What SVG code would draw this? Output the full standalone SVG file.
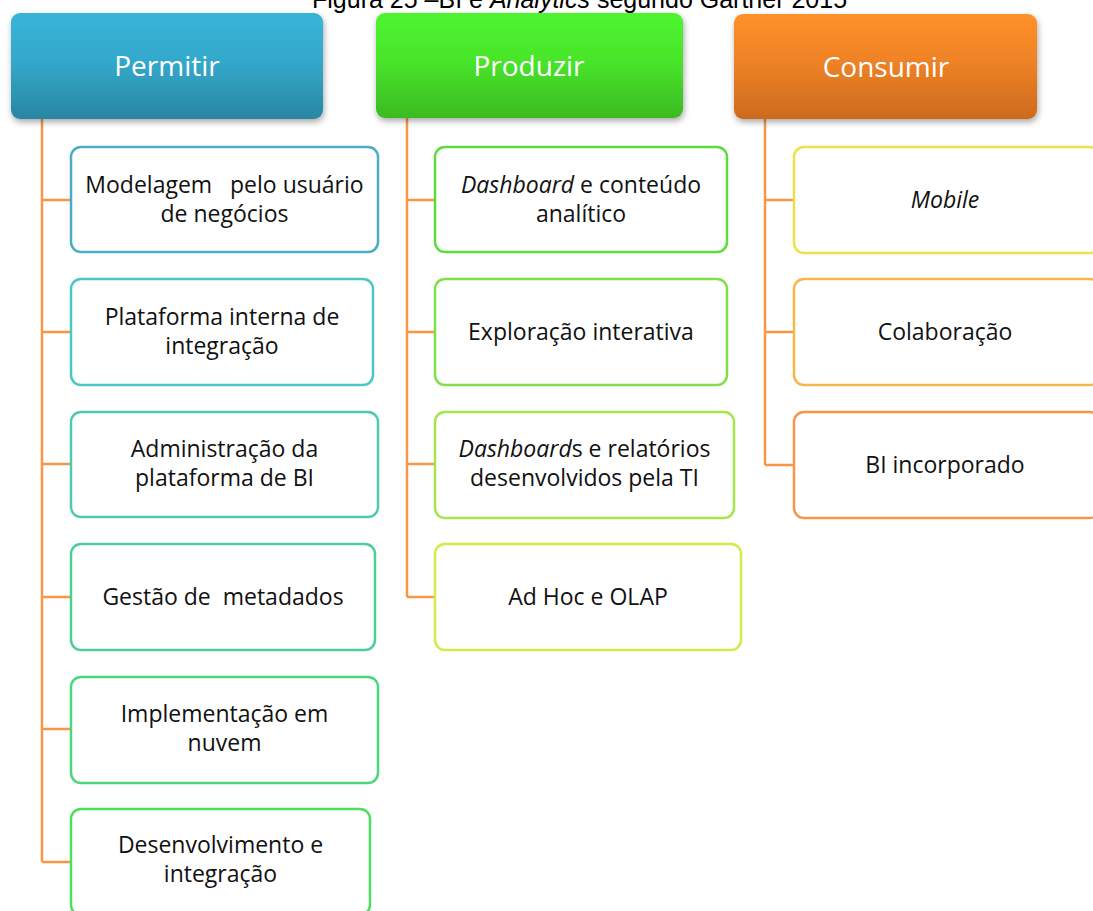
<svg xmlns="http://www.w3.org/2000/svg" width="1093" height="911" viewBox="0 0 1093 911">
  <style>
    .title { font-family: "Liberation Sans", Arial, sans-serif; font-size: 25px; fill: #000; }
    .head { font-family: "Open Sans", "Noto Sans", sans-serif; font-size: 28px; fill: #fff; text-anchor: middle; }
    .lbl { font-family: "Open Sans", "Noto Sans", sans-serif; font-size: 23px; fill: #111; text-anchor: middle; white-space: pre; }
    .it { font-style: italic; }
    .box { fill: #fff; stroke-width: 2.5; }
    .link { fill: none; stroke: #f79646; stroke-width: 2.5; }
  </style>
  <defs>
    <linearGradient id="gBlue" x1="0" y1="0" x2="0" y2="1">
      <stop offset="0" stop-color="#38b4d8"/>
      <stop offset="0.45" stop-color="#33a9cb"/>
      <stop offset="1" stop-color="#2986a2"/>
    </linearGradient>
    <linearGradient id="gGreen" x1="0" y1="0" x2="0" y2="1">
      <stop offset="0" stop-color="#4ef52f"/>
      <stop offset="0.45" stop-color="#48e52b"/>
      <stop offset="1" stop-color="#3bba22"/>
    </linearGradient>
    <linearGradient id="gOrange" x1="0" y1="0" x2="0" y2="1">
      <stop offset="0" stop-color="#ff912a"/>
      <stop offset="0.45" stop-color="#ee8226"/>
      <stop offset="1" stop-color="#cd6a1e"/>
    </linearGradient>
    <filter id="shadow" x="-10%" y="-10%" width="125%" height="135%">
      <feDropShadow dx="1" dy="3" stdDeviation="3" flood-color="#000" flood-opacity="0.35"/>
    </filter>
  </defs>

  <rect width="1093" height="911" fill="#fff"/>

  <!-- caption, partly above the top edge -->
  <text class="title" x="312" y="8">Figura 25 –BI e <tspan class="it">Analytics</tspan> segundo Gartner 2015</text>

  <!-- tree connectors -->
  <g id="connectors">
    <path class="link" d="M42 119 V862 M42 200 H71 M42 332 H71 M42 464 H71 M42 597 H71 M42 729 H71 M42 862 H71"/>
    <path class="link" d="M407 118 V597 M407 200 H435 M407 332 H435 M407 464 H435 M407 597 H435"/>
    <path class="link" d="M765 119 V465 M765 200 H794 M765 332 H794 M765 465 H794"/>
  </g>

  <!-- column headers -->
  <g id="permitir">
    <rect x="11" y="13" width="312" height="106" rx="9" fill="url(#gBlue)" filter="url(#shadow)"/>
    <text class="head" x="167" y="76">Permitir</text>
  </g>
  <g id="produzir">
    <rect x="376" y="13" width="307" height="105" rx="9" fill="url(#gGreen)" filter="url(#shadow)"/>
    <text class="head" x="529" y="76">Produzir</text>
  </g>
  <g id="consumir">
    <rect x="734" y="14" width="303" height="105" rx="9" fill="url(#gOrange)" filter="url(#shadow)"/>
    <text class="head" x="886" y="77">Consumir</text>
  </g>

  <!-- Permitir items -->
  <g id="modelagem">
    <rect class="box" x="71" y="147" width="307" height="105" rx="10" stroke="#4bacc6"/>
    <text class="lbl" x="224.5" y="193">Modelagem   pelo usuário</text>
    <text class="lbl" x="224.5" y="222">de negócios</text>
  </g>
  <g id="plataforma-interna">
    <rect class="box" x="71" y="279" width="302" height="106" rx="10" stroke="#4bc8c3"/>
    <text class="lbl" x="222" y="325">Plataforma interna de</text>
    <text class="lbl" x="222" y="354">integração</text>
  </g>
  <g id="administracao">
    <rect class="box" x="71" y="412" width="307" height="105" rx="10" stroke="#4ccbb1"/>
    <text class="lbl" x="224.5" y="457">Administração da</text>
    <text class="lbl" x="224.5" y="486">plataforma de BI</text>
  </g>
  <g id="gestao-metadados">
    <rect class="box" x="71" y="544" width="304" height="106" rx="10" stroke="#4bcf98"/>
    <text class="lbl" x="223" y="605">Gestão de  metadados</text>
  </g>
  <g id="implementacao-nuvem">
    <rect class="box" x="71" y="677" width="307" height="106" rx="10" stroke="#4cd67e"/>
    <text class="lbl" x="224.5" y="722">Implementação em</text>
    <text class="lbl" x="224.5" y="751">nuvem</text>
  </g>
  <g id="desenvolvimento">
    <rect class="box" x="71" y="809" width="299" height="106" rx="10" stroke="#4dde5c"/>
    <text class="lbl" x="220.5" y="853">Desenvolvimento e</text>
    <text class="lbl" x="220.5" y="882">integração</text>
  </g>

  <!-- Produzir items -->
  <g id="dashboard-conteudo">
    <rect class="box" x="435" y="147" width="292" height="105" rx="10" stroke="#5ddc3f"/>
    <text class="lbl" x="581" y="193"><tspan class="it">Dashboard</tspan> e conteúdo</text>
    <text class="lbl" x="581" y="222">analítico</text>
  </g>
  <g id="exploracao">
    <rect class="box" x="435" y="279" width="292" height="106" rx="10" stroke="#80df4a"/>
    <text class="lbl" x="581" y="340">Exploração interativa</text>
  </g>
  <g id="dashboards-relatorios">
    <rect class="box" x="435" y="412" width="299" height="106" rx="10" stroke="#a6e54b"/>
    <text class="lbl" x="584.5" y="457"><tspan class="it">Dashboard</tspan>s e relatórios</text>
    <text class="lbl" x="584.5" y="486">desenvolvidos pela TI</text>
  </g>
  <g id="adhoc-olap">
    <rect class="box" x="435" y="544" width="306" height="106" rx="10" stroke="#d5ea4a"/>
    <text class="lbl" x="588" y="605">Ad Hoc e OLAP</text>
  </g>

  <!-- Consumir items -->
  <g id="mobile">
    <rect class="box" x="794" y="147" width="306" height="106" rx="10" stroke="#efe04a"/>
    <text class="lbl it" x="945" y="208">Mobile</text>
  </g>
  <g id="colaboracao">
    <rect class="box" x="794" y="279" width="306" height="106" rx="10" stroke="#f5b64a"/>
    <text class="lbl" x="945" y="340">Colaboração</text>
  </g>
  <g id="bi-incorporado">
    <rect class="box" x="794" y="412" width="306" height="106" rx="10" stroke="#f7964a"/>
    <text class="lbl" x="945" y="473">BI incorporado</text>
  </g>
</svg>
